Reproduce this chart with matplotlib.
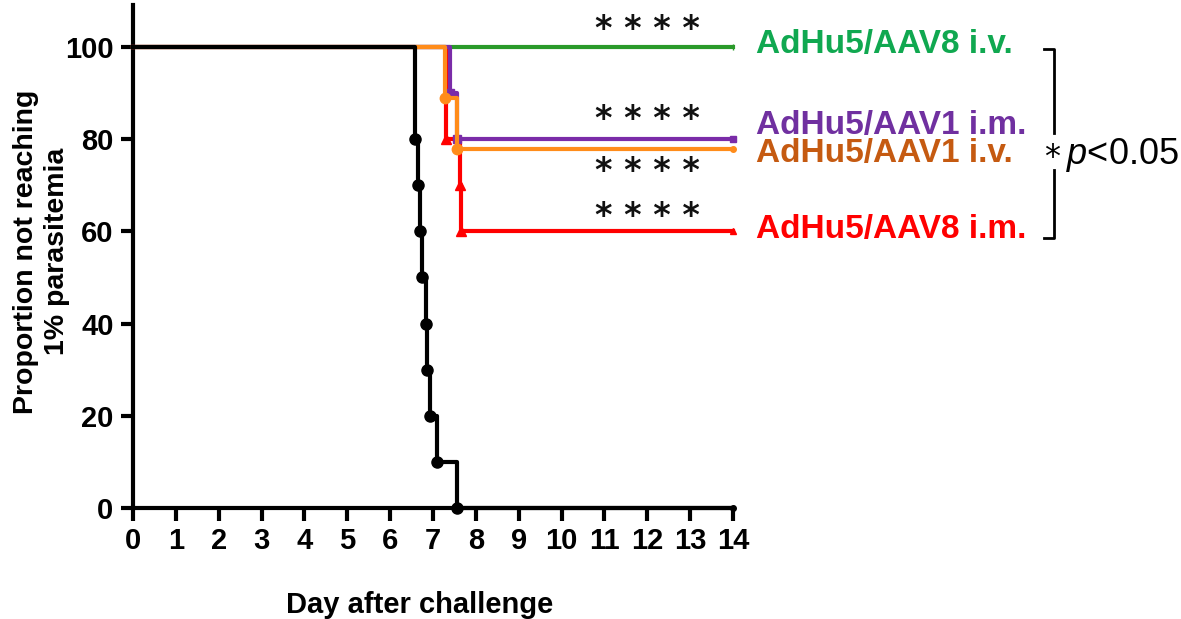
import matplotlib
matplotlib.use("Agg")
import matplotlib.pyplot as plt

# survival data (day, % not reaching 1% parasitemia)
naive_t = [6.58, 6.66, 6.69, 6.74, 6.83, 6.87, 6.93, 7.1, 7.56]
naive_s = [80, 70, 60, 50, 40, 30, 20, 10, 0]
aav1iv_t = [7.28, 7.56]
aav1iv_s = [88.9, 77.8]
aav1im_t = [7.4, 7.57]
aav1im_s = [90, 80]
aav8im_t = [7.3, 7.63, 7.66]
aav8im_s = [80, 70, 60]
aav8iv_t = []
aav8iv_s = []

groups = ["AdHu5/AAV8 i.v.", "AdHu5/AAV1 i.m.", "AdHu5/AAV1 i.v.", "AdHu5/AAV8 i.m."]
label_y = [100.5, 83, 76.8, 60.5]
star_y = [103.7, 84.2, 73, 63.3]
line_cols = ["#2a9a2a", "#7a2ca8", "#ff8c1a", "#ff0000"]
text_cols = ["#10a850", "#7030a0", "#c55a11", "#ff0000"]

sans = ["Liberation Sans", "DejaVu Sans"]
plt.rcParams["mathtext.fontset"] = "custom"
plt.rcParams["mathtext.it"] = "Liberation Sans:italic"
plt.rcParams["mathtext.rm"] = "Liberation Sans"

fig = plt.figure(figsize=(11.81, 6.19), dpi=100)
ax = fig.add_axes([0.1126, 0.1793, 0.508, 0.812])

def km(t, s, col, mk, ms, z):
    x = [0] + t + [14]
    y = [100] + s + [s[-1] if s else 100]
    ax.step(x, y, where="post", color=col, lw=3, zorder=z, clip_on=False)
    if t:
        ax.plot(t, s, ls="none", marker=mk, color=col, ms=ms, zorder=z, clip_on=False)
    ax.plot([14], [y[-1]], ls="none", marker=mk, color=col, ms=4, zorder=z, clip_on=False)

km(aav8iv_t, aav8iv_s, line_cols[0], "|", 7, 2)
km(aav8im_t, aav8im_s, line_cols[3], "^", 7, 3)
km(aav1im_t, aav1im_s, line_cols[1], "s", 6, 4)
km(aav1iv_t, aav1iv_s, line_cols[2], "o", 7.5, 5)
km(naive_t, naive_s, "black", "o", 8, 6)

ax.set_xlim(0, 14)
ax.set_ylim(0, 109)
ax.set_xticks(range(0, 15))
ax.set_yticks([0, 20, 40, 60, 80, 100])
for sp in ["top", "right"]:
    ax.spines[sp].set_visible(False)
for sp in ["left", "bottom"]:
    ax.spines[sp].set_linewidth(3)
ax.tick_params(width=3, length=9, pad=5)
for lab in ax.get_xticklabels() + ax.get_yticklabels():
    lab.set_family(sans)
    lab.set_weight("bold")
    lab.set_fontsize(21)

ax.set_xlabel("Day after challenge", fontsize=21, fontweight="bold", family=sans)
ax.xaxis.set_label_coords(0.478, -0.165)
ax.set_ylabel("Proportion not reaching\n1% parasitemia", fontsize=20.5,
              fontweight="bold", family=sans, linespacing=1.25)
ax.yaxis.set_label_coords(-0.105, 0.51)

for g, ly, sy, c in zip(groups, label_y, star_y, text_cols):
    ax.text(14.55, ly, g, color=c, fontsize=24, fontweight="bold", family=sans,
            ha="left", va="center", clip_on=False)
    ax.text(12.0, sy, "* * * *", color="#111111", fontsize=24, fontweight="bold",
            ha="center", va="center", clip_on=False)

# bracket with p value
bx = 21.5
ax.plot([bx - 0.25, bx, bx], [99.6, 99.6, 81.3], color="black", lw=2, clip_on=False)
ax.plot([bx, bx, bx - 0.25], [73.3, 58.6, 58.6], color="black", lw=2, clip_on=False)
ax.text(bx - 0.05, 76, "*", fontsize=23, ha="center", va="center", clip_on=False)
ax.text(bx + 0.27, 76.5, "$\\it{p}$<0.05", fontsize=26, ha="left", va="center",
        family=sans, clip_on=False)

fig.savefig("out.png", dpi=100)
